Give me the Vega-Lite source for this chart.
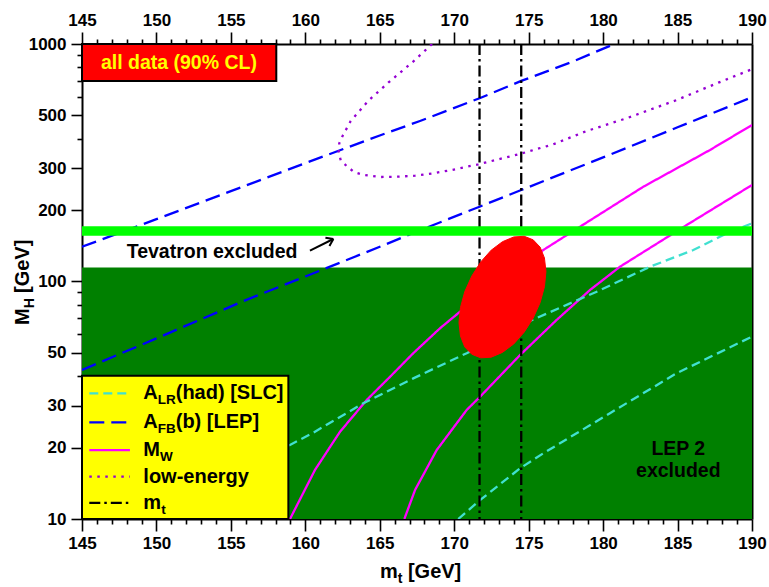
{
  "$schema": "https://vega.github.io/schema/vega-lite/v6.json",
  "width": 670,
  "height": 475,
  "autosize": "none",
  "padding": {"left": 82, "top": 44, "right": 17, "bottom": 68},
  "background": "white",
  "config": {
    "font": "Liberation Sans",
    "view": {"stroke": null},
    "axis": {
      "zindex": 1, "grid": false, "title": null,
      "domainColor": "black", "domainWidth": 2,
      "tickColor": "black", "tickWidth": 1.6,
      "labelFont": "Liberation Sans", "labelFontWeight": "bold", "labelFontSize": 17, "labelColor": "black",
      "labelFlush": false, "labelOverlap": false
    },
    "text": {"font": "Liberation Sans", "fontWeight": "bold", "color": "black"}
  },
  "resolve": {"axis": {"x": "independent", "y": "independent"}},
  "datasets": {
    "lep2": [{"mt0": 145, "mt1": 190, "M0": 10, "M1": 114.4}],
    "tevatron": [{"mt0": 145, "mt1": 190, "M0": 156, "M1": 171}],
    "curves": [
      {"series": "AFB", "seg": "AFB-1", "i": 0, "mt": 145, "MH": 140},
      {"series": "AFB", "seg": "AFB-1", "i": 1, "mt": 150, "MH": 183},
      {"series": "AFB", "seg": "AFB-1", "i": 2, "mt": 155, "MH": 240},
      {"series": "AFB", "seg": "AFB-1", "i": 3, "mt": 160, "MH": 315},
      {"series": "AFB", "seg": "AFB-1", "i": 4, "mt": 165, "MH": 412},
      {"series": "AFB", "seg": "AFB-1", "i": 5, "mt": 167.7, "MH": 474},
      {"series": "AFB", "seg": "AFB-1", "i": 6, "mt": 171.7, "MH": 591},
      {"series": "AFB", "seg": "AFB-1", "i": 7, "mt": 174.5, "MH": 699},
      {"series": "AFB", "seg": "AFB-1", "i": 8, "mt": 178, "MH": 845},
      {"series": "AFB", "seg": "AFB-1", "i": 9, "mt": 180.75, "MH": 1000},
      {"series": "AFB", "seg": "AFB-2", "i": 0, "mt": 145, "MH": 42.4},
      {"series": "AFB", "seg": "AFB-2", "i": 1, "mt": 150, "MH": 57.6},
      {"series": "AFB", "seg": "AFB-2", "i": 2, "mt": 156, "MH": 83.5},
      {"series": "AFB", "seg": "AFB-2", "i": 3, "mt": 160, "MH": 105},
      {"series": "AFB", "seg": "AFB-2", "i": 4, "mt": 165, "MH": 140},
      {"series": "AFB", "seg": "AFB-2", "i": 5, "mt": 167.2, "MH": 159.6},
      {"series": "AFB", "seg": "AFB-2", "i": 6, "mt": 171.7, "MH": 206.5},
      {"series": "AFB", "seg": "AFB-2", "i": 7, "mt": 174.5, "MH": 242.8},
      {"series": "AFB", "seg": "AFB-2", "i": 8, "mt": 180, "MH": 333},
      {"series": "AFB", "seg": "AFB-2", "i": 9, "mt": 185, "MH": 446},
      {"series": "AFB", "seg": "AFB-2", "i": 10, "mt": 190, "MH": 597},
      {"series": "MW", "seg": "MW-1", "i": 0, "mt": 158.97, "MH": 10},
      {"series": "MW", "seg": "MW-1", "i": 1, "mt": 160.65, "MH": 16.1},
      {"series": "MW", "seg": "MW-1", "i": 2, "mt": 162.33, "MH": 23.3},
      {"series": "MW", "seg": "MW-1", "i": 3, "mt": 164.12, "MH": 31.7},
      {"series": "MW", "seg": "MW-1", "i": 4, "mt": 165.69, "MH": 39.7},
      {"series": "MW", "seg": "MW-1", "i": 5, "mt": 167.25, "MH": 49.9},
      {"series": "MW", "seg": "MW-1", "i": 6, "mt": 169.04, "MH": 63.5},
      {"series": "MW", "seg": "MW-1", "i": 7, "mt": 170.39, "MH": 74.6},
      {"series": "MW", "seg": "MW-1", "i": 8, "mt": 175.98, "MH": 135.7},
      {"series": "MW", "seg": "MW-1", "i": 9, "mt": 178.45, "MH": 170.1},
      {"series": "MW", "seg": "MW-1", "i": 10, "mt": 182.7, "MH": 250.6},
      {"series": "MW", "seg": "MW-1", "i": 11, "mt": 187.18, "MH": 357.9},
      {"series": "MW", "seg": "MW-1", "i": 12, "mt": 190, "MH": 456},
      {"series": "MW", "seg": "MW-2", "i": 0, "mt": 166.65, "MH": 10},
      {"series": "MW", "seg": "MW-2", "i": 1, "mt": 167.37, "MH": 13.25},
      {"series": "MW", "seg": "MW-2", "i": 2, "mt": 168.82, "MH": 19.5},
      {"series": "MW", "seg": "MW-2", "i": 3, "mt": 170.84, "MH": 28.8},
      {"series": "MW", "seg": "MW-2", "i": 4, "mt": 171.73, "MH": 32.7},
      {"series": "MW", "seg": "MW-2", "i": 5, "mt": 174.42, "MH": 49},
      {"series": "MW", "seg": "MW-2", "i": 6, "mt": 176.88, "MH": 68.9},
      {"series": "MW", "seg": "MW-2", "i": 7, "mt": 179.12, "MH": 92.1},
      {"series": "MW", "seg": "MW-2", "i": 8, "mt": 181.13, "MH": 115.4},
      {"series": "MW", "seg": "MW-2", "i": 9, "mt": 185.61, "MH": 172.9},
      {"series": "MW", "seg": "MW-2", "i": 10, "mt": 190, "MH": 254.9},
      {"series": "ALR", "seg": "ALR-1", "i": 0, "mt": 158.9, "MH": 20.4},
      {"series": "ALR", "seg": "ALR-1", "i": 1, "mt": 160.54, "MH": 23.1},
      {"series": "ALR", "seg": "ALR-1", "i": 2, "mt": 163.89, "MH": 30.7},
      {"series": "ALR", "seg": "ALR-1", "i": 3, "mt": 167.25, "MH": 39.1},
      {"series": "ALR", "seg": "ALR-1", "i": 4, "mt": 170.84, "MH": 49.9},
      {"series": "ALR", "seg": "ALR-1", "i": 5, "mt": 175.09, "MH": 68.2},
      {"series": "ALR", "seg": "ALR-1", "i": 6, "mt": 179.57, "MH": 90.6},
      {"series": "ALR", "seg": "ALR-1", "i": 7, "mt": 183.15, "MH": 115.4},
      {"series": "ALR", "seg": "ALR-1", "i": 8, "mt": 186.06, "MH": 135.7},
      {"series": "ALR", "seg": "ALR-1", "i": 9, "mt": 188.3, "MH": 159.6},
      {"series": "ALR", "seg": "ALR-1", "i": 10, "mt": 190, "MH": 175.8},
      {"series": "ALR", "seg": "ALR-2", "i": 0, "mt": 170.27, "MH": 10},
      {"series": "ALR", "seg": "ALR-2", "i": 1, "mt": 171.73, "MH": 12},
      {"series": "ALR", "seg": "ALR-2", "i": 2, "mt": 174.42, "MH": 16.35},
      {"series": "ALR", "seg": "ALR-2", "i": 3, "mt": 175.98, "MH": 18.9},
      {"series": "ALR", "seg": "ALR-2", "i": 4, "mt": 180.46, "MH": 27.9},
      {"series": "ALR", "seg": "ALR-2", "i": 5, "mt": 184.94, "MH": 41.1},
      {"series": "ALR", "seg": "ALR-2", "i": 6, "mt": 190, "MH": 58.6},
      {"series": "low", "seg": "low-1", "i": 0, "mt": 168.51, "MH": 1000},
      {"series": "low", "seg": "low-1", "i": 1, "mt": 167.37, "MH": 857},
      {"series": "low", "seg": "low-1", "i": 2, "mt": 165.57, "MH": 687},
      {"series": "low", "seg": "low-1", "i": 3, "mt": 164.23, "MH": 577},
      {"series": "low", "seg": "low-1", "i": 4, "mt": 163.05, "MH": 474},
      {"series": "low", "seg": "low-1", "i": 5, "mt": 162.51, "MH": 411},
      {"series": "low", "seg": "low-1", "i": 6, "mt": 162.28, "MH": 382},
      {"series": "low", "seg": "low-1", "i": 7, "mt": 162.24, "MH": 352},
      {"series": "low", "seg": "low-1", "i": 8, "mt": 162.38, "MH": 322.5},
      {"series": "low", "seg": "low-1", "i": 9, "mt": 162.78, "MH": 306.4},
      {"series": "low", "seg": "low-1", "i": 10, "mt": 163.27, "MH": 289},
      {"series": "low", "seg": "low-1", "i": 11, "mt": 163.85, "MH": 281.7},
      {"series": "low", "seg": "low-1", "i": 12, "mt": 165.01, "MH": 275.4},
      {"series": "low", "seg": "low-1", "i": 13, "mt": 166.24, "MH": 276.3},
      {"series": "low", "seg": "low-1", "i": 14, "mt": 167.37, "MH": 279},
      {"series": "low", "seg": "low-1", "i": 15, "mt": 168.59, "MH": 285.5},
      {"series": "low", "seg": "low-1", "i": 16, "mt": 169.83, "MH": 294.8},
      {"series": "low", "seg": "low-1", "i": 17, "mt": 171.62, "MH": 311.5},
      {"series": "low", "seg": "low-1", "i": 18, "mt": 174.42, "MH": 344.4},
      {"series": "low", "seg": "low-1", "i": 19, "mt": 176.65, "MH": 378.2},
      {"series": "low", "seg": "low-1", "i": 20, "mt": 178.9, "MH": 430.2},
      {"series": "low", "seg": "low-1", "i": 21, "mt": 181.58, "MH": 486.7},
      {"series": "low", "seg": "low-1", "i": 22, "mt": 184.94, "MH": 580.9},
      {"series": "low", "seg": "low-1", "i": 23, "mt": 187.74, "MH": 687.3},
      {"series": "low", "seg": "low-1", "i": 24, "mt": 190, "MH": 783}
    ],
    "topmass": [
      {"series": "mt", "mt": 171.7},
      {"series": "mt", "mt": 174.5}
    ],
    "contour": [
      {"i": 0, "mt": 176.16, "MH": 110.3},
      {"i": 1, "mt": 176.06, "MH": 125.6},
      {"i": 2, "mt": 175.77, "MH": 139.5},
      {"i": 3, "mt": 175.3, "MH": 149.8},
      {"i": 4, "mt": 174.7, "MH": 155},
      {"i": 5, "mt": 174.0, "MH": 154},
      {"i": 6, "mt": 173.24, "MH": 147.1},
      {"i": 7, "mt": 172.48, "MH": 135.4},
      {"i": 8, "mt": 171.78, "MH": 120.9},
      {"i": 9, "mt": 171.18, "MH": 105.4},
      {"i": 10, "mt": 170.71, "MH": 90.7},
      {"i": 11, "mt": 170.42, "MH": 77.7},
      {"i": 12, "mt": 170.32, "MH": 67.1},
      {"i": 13, "mt": 170.42, "MH": 58.9},
      {"i": 14, "mt": 170.71, "MH": 53},
      {"i": 15, "mt": 171.18, "MH": 49.4},
      {"i": 16, "mt": 171.78, "MH": 47.7},
      {"i": 17, "mt": 172.48, "MH": 48},
      {"i": 18, "mt": 173.24, "MH": 50.3},
      {"i": 19, "mt": 174.0, "MH": 54.6},
      {"i": 20, "mt": 174.7, "MH": 61.2},
      {"i": 21, "mt": 175.3, "MH": 70.1},
      {"i": 22, "mt": 175.77, "MH": 81.5},
      {"i": 23, "mt": 176.06, "MH": 95.1},
      {"i": 24, "mt": 176.16, "MH": 110.3}
    ],
    "arrow": [
      {"mt0": 160.31, "M0": 134.8, "mt1": 161.88, "M1": 151.0},
      {"mt0": 161.35, "M0": 152.8, "mt1": 161.88, "M1": 151.0},
      {"mt0": 161.62, "M0": 141.1, "mt1": 161.88, "M1": 151.0}
    ],
    "legend": [
      {"series": "ALR", "mt0": 145.49, "mt1": 148.22, "lab": 149.12, "MH": 33.8, "main": "A", "sub": "LR", "rest": "(had) [SLC]"},
      {"series": "AFB", "mt0": 145.49, "mt1": 148.22, "lab": 149.12, "MH": 25.5, "main": "A", "sub": "FB", "rest": "(b) [LEP]"},
      {"series": "MW", "mt0": 145.49, "mt1": 148.22, "lab": 149.12, "MH": 19.5, "main": "M", "sub": "W", "rest": ""},
      {"series": "low", "mt0": 145.49, "mt1": 148.22, "lab": 149.12, "MH": 15.07, "main": "low-energy", "sub": "", "rest": ""},
      {"series": "mt", "mt0": 145.49, "mt1": 148.22, "lab": 149.12, "MH": 11.7, "main": "m", "sub": "t", "rest": ""}
    ]
  },
  "layer": [
    {
      "data": {"name": "lep2"},
      "mark": {"type": "rect", "fill": "#008000"},
      "encoding": {
        "x": {"field": "mt0", "type": "quantitative", "scale": {"domain": [145, 190], "nice": false, "zero": false},
              "axis": {"orient": "bottom", "values": [145, 150, 155, 160, 165, 170, 175, 180, 185, 190], "format": "d", "tickSize": 12, "labelPadding": 4}},
        "x2": {"field": "mt1"},
        "y": {"field": "M0", "type": "quantitative", "scale": {"type": "log", "domain": [10, 1000], "nice": false},
              "axis": {"orient": "left", "values": [10, 20, 30, 50, 100, 200, 300, 500, 1000], "format": "d", "tickSize": 11, "labelPadding": 5}},
        "y2": {"field": "M1"}
      }
    },
    {
      "data": {"name": "curves"},
      "mark": {"type": "line", "strokeWidth": 2.3, "clip": true},
      "encoding": {
        "x": {"field": "mt", "type": "quantitative",
              "axis": {"orient": "bottom", "values": [146,147,148,149,151,152,153,154,156,157,158,159,161,162,163,164,166,167,168,169,171,172,173,174,176,177,178,179,181,182,183,184,186,187,188,189], "tickSize": 5, "labels": false, "domain": false}},
        "y": {"field": "MH", "type": "quantitative", "scale": {"type": "log"},
              "axis": {"orient": "left", "values": [40, 60, 70, 80, 90, 400, 600, 700, 800, 900], "tickSize": 5, "labels": false, "domain": false}},
        "color": {"field": "series", "type": "nominal", "legend": null,
                  "scale": {"domain": ["ALR", "AFB", "MW", "low", "mt"], "range": ["#40E0D0", "#0000FF", "#FF00FF", "#9400D3", "#000000"]}},
        "strokeDash": {"field": "series", "type": "nominal", "legend": null,
                       "scale": {"domain": ["ALR", "AFB", "MW", "low", "mt"], "range": [[9, 5], [15, 7], [1, 0], [2.5, 5.5], [11, 4, 2.5, 4]]}},
        "detail": {"field": "seg"},
        "order": {"field": "i", "type": "quantitative"}
      }
    },
    {
      "data": {"name": "topmass"},
      "mark": {"type": "rule", "strokeWidth": 2.3},
      "encoding": {
        "x": {"field": "mt", "type": "quantitative",
              "axis": {"orient": "top", "values": [145, 150, 155, 160, 165, 170, 175, 180, 185, 190], "format": "d", "tickSize": 12, "labelPadding": 3}},
        "color": {"field": "series", "type": "nominal", "legend": null},
        "strokeDash": {"field": "series", "type": "nominal", "legend": null}
      }
    },
    {
      "data": {"name": "tevatron"},
      "mark": {"type": "rect", "fill": "#00FF00"},
      "encoding": {
        "x": {"field": "mt0", "type": "quantitative",
              "axis": {"orient": "top", "values": [146,147,148,149,151,152,153,154,156,157,158,159,161,162,163,164,166,167,168,169,171,172,173,174,176,177,178,179,181,182,183,184,186,187,188,189], "tickSize": 5, "labels": false, "domain": false}},
        "x2": {"field": "mt1"},
        "y": {"field": "M0", "type": "quantitative", "scale": {"type": "log"},
              "axis": {"orient": "right", "ticks": false, "labels": false, "domain": true}},
        "y2": {"field": "M1"}
      }
    },
    {
      "data": {"name": "contour"},
      "mark": {"type": "line", "fill": "#FF0000", "stroke": "#FF0000", "strokeWidth": 1},
      "encoding": {
        "x": {"field": "mt", "type": "quantitative", "axis": null},
        "y": {"field": "MH", "type": "quantitative", "axis": null},
        "order": {"field": "i", "type": "quantitative"}
      }
    },
    {
      "data": {"values": [{"mt": 148.0, "MH": 125.2, "label": "Tevatron excluded"}]},
      "mark": {"type": "text", "align": "left", "baseline": "alphabetic", "fontSize": 19.5},
      "encoding": {
        "x": {"field": "mt", "type": "quantitative", "axis": null},
        "y": {"field": "MH", "type": "quantitative", "axis": null},
        "text": {"field": "label"}
      }
    },
    {
      "data": {"name": "arrow"},
      "mark": {"type": "rule", "color": "black", "strokeWidth": 2},
      "encoding": {
        "x": {"field": "mt0", "type": "quantitative", "axis": null},
        "y": {"field": "M0", "type": "quantitative", "axis": null},
        "x2": {"field": "mt1"},
        "y2": {"field": "M1"}
      }
    },
    {
      "data": {"values": [{"mt": 185.05, "MH": 18.6, "label": "LEP 2"}, {"mt": 185.05, "MH": 15.0, "label": "excluded"}]},
      "mark": {"type": "text", "align": "center", "baseline": "alphabetic", "fontSize": 19.5},
      "encoding": {
        "x": {"field": "mt", "type": "quantitative", "axis": null},
        "y": {"field": "MH", "type": "quantitative", "axis": null},
        "text": {"field": "label"}
      }
    },
    {
      "data": {"values": [{"mt0": 145, "mt1": 158.86, "M0": 10, "M1": 40.1}]},
      "mark": {"type": "rect", "fill": "#FFFF00", "stroke": "black", "strokeWidth": 2},
      "encoding": {
        "x": {"field": "mt0", "type": "quantitative", "axis": null},
        "x2": {"field": "mt1"},
        "y": {"field": "M0", "type": "quantitative", "axis": null},
        "y2": {"field": "M1"}
      }
    },
    {
      "data": {"name": "legend"},
      "mark": {"type": "rule", "strokeWidth": 2.3},
      "encoding": {
        "x": {"field": "mt0", "type": "quantitative", "axis": null},
        "x2": {"field": "mt1"},
        "y": {"field": "MH", "type": "quantitative", "axis": null},
        "color": {"field": "series", "type": "nominal", "legend": null},
        "strokeDash": {"field": "series", "type": "nominal", "legend": null}
      }
    },
    {
      "data": {"name": "legend"},
      "mark": {"type": "text", "align": "left", "baseline": "alphabetic", "fontSize": 20, "dy": 6},
      "encoding": {
        "x": {"field": "lab", "type": "quantitative", "axis": null},
        "y": {"field": "MH", "type": "quantitative", "axis": null},
        "text": {"field": "main"}
      }
    },
    {
      "data": {"name": "legend"},
      "transform": [{"filter": "datum.series === 'ALR' || datum.series === 'AFB'"}],
      "layer": [
        {
          "mark": {"type": "text", "align": "left", "baseline": "alphabetic", "fontSize": 13.5, "dx": 14.4, "dy": 11},
          "encoding": {
            "x": {"field": "lab", "type": "quantitative", "axis": null},
            "y": {"field": "MH", "type": "quantitative", "axis": null},
            "text": {"field": "sub"}
          }
        },
        {
          "mark": {"type": "text", "align": "left", "baseline": "alphabetic", "fontSize": 20, "dx": 32.4, "dy": 6},
          "encoding": {
            "x": {"field": "lab", "type": "quantitative", "axis": null},
            "y": {"field": "MH", "type": "quantitative", "axis": null},
            "text": {"field": "rest"}
          }
        }
      ]
    },
    {
      "data": {"name": "legend"},
      "transform": [{"filter": "datum.series === 'MW'"}],
      "mark": {"type": "text", "align": "left", "baseline": "alphabetic", "fontSize": 13.5, "dx": 16.7, "dy": 11},
      "encoding": {
        "x": {"field": "lab", "type": "quantitative", "axis": null},
        "y": {"field": "MH", "type": "quantitative", "axis": null},
        "text": {"field": "sub"}
      }
    },
    {
      "data": {"name": "legend"},
      "transform": [{"filter": "datum.series === 'mt'"}],
      "mark": {"type": "text", "align": "left", "baseline": "alphabetic", "fontSize": 13.5, "dx": 17.8, "dy": 11},
      "encoding": {
        "x": {"field": "lab", "type": "quantitative", "axis": null},
        "y": {"field": "MH", "type": "quantitative", "axis": null},
        "text": {"field": "sub"}
      }
    },
    {
      "data": {"values": [{"mt0": 145, "mt1": 158.05, "M0": 698.7, "M1": 1000}]},
      "mark": {"type": "rect", "fill": "#FF0000", "stroke": "black", "strokeWidth": 2},
      "encoding": {
        "x": {"field": "mt0", "type": "quantitative", "axis": null},
        "x2": {"field": "mt1"},
        "y": {"field": "M0", "type": "quantitative", "axis": null},
        "y2": {"field": "M1"}
      }
    },
    {
      "data": {"values": [{"mt": 151.51, "MH": 827.8, "label": "all data (90% CL)"}]},
      "mark": {"type": "text", "align": "center", "baseline": "middle", "fontSize": 19.5, "color": "#FFFF00"},
      "encoding": {
        "x": {"field": "mt", "type": "quantitative", "axis": null},
        "y": {"field": "MH", "type": "quantitative", "axis": null},
        "text": {"field": "label"}
      }
    },
    {
      "data": {"values": [{"mt": 165.01, "MH": 5.62, "main": "m", "sub": "t", "rest": "[GeV]"}]},
      "layer": [
        {
          "mark": {"type": "text", "align": "left", "baseline": "alphabetic", "fontSize": 20},
          "encoding": {
            "x": {"field": "mt", "type": "quantitative", "axis": null},
            "y": {"field": "MH", "type": "quantitative", "axis": null},
            "text": {"field": "main"}
          }
        },
        {
          "mark": {"type": "text", "align": "left", "baseline": "alphabetic", "fontSize": 14, "dx": 17.8, "dy": 5},
          "encoding": {
            "x": {"field": "mt", "type": "quantitative", "axis": null},
            "y": {"field": "MH", "type": "quantitative", "axis": null},
            "text": {"field": "sub"}
          }
        },
        {
          "mark": {"type": "text", "align": "left", "baseline": "alphabetic", "fontSize": 20, "dx": 28},
          "encoding": {
            "x": {"field": "mt", "type": "quantitative", "axis": null},
            "y": {"field": "MH", "type": "quantitative", "axis": null},
            "text": {"field": "rest"}
          }
        }
      ]
    },
    {
      "data": {"values": [{"mt": 141.45, "MH": 65.6, "main": "M", "sub": "H", "rest": "[GeV]"}]},
      "layer": [
        {
          "mark": {"type": "text", "align": "left", "baseline": "alphabetic", "fontSize": 20, "angle": 270},
          "encoding": {
            "x": {"field": "mt", "type": "quantitative", "axis": null},
            "y": {"field": "MH", "type": "quantitative", "axis": null},
            "text": {"field": "main"}
          }
        },
        {
          "mark": {"type": "text", "align": "left", "baseline": "alphabetic", "fontSize": 14, "angle": 270, "dx": 16.7, "dy": 5},
          "encoding": {
            "x": {"field": "mt", "type": "quantitative", "axis": null},
            "y": {"field": "MH", "type": "quantitative", "axis": null},
            "text": {"field": "sub"}
          }
        },
        {
          "mark": {"type": "text", "align": "left", "baseline": "alphabetic", "fontSize": 20, "angle": 270, "dx": 32},
          "encoding": {
            "x": {"field": "mt", "type": "quantitative", "axis": null},
            "y": {"field": "MH", "type": "quantitative", "axis": null},
            "text": {"field": "rest"}
          }
        }
      ]
    }
  ]
}
